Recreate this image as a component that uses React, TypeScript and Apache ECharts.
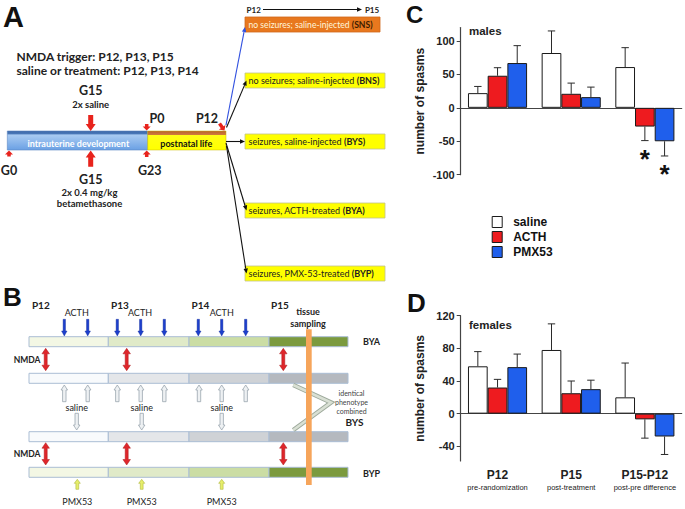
import React, { useEffect, useRef } from 'react';
import * as echarts from 'echarts';

// ---------- data ----------
const categories = ['P12', 'P15', 'P15-P12'];
const subLabels = ['pre-randomization', 'post-treatment', 'post-pre difference'];
const groupNames = ['saline', 'ACTH', 'PMX53'];
const groupColors = ['#ffffff', '#ee1b1f', '#1f5fec'];

const maleSaline = [22, 82, 61];
const maleSalineErr = [32, 115, 90];
const maleACTH = [48, 21, -28];
const maleACTHErr = [60, 37, -49];
const malePMX = [67, 16, -50];
const malePMXErr = [93, 31, -72];
const maleSalineSig = [0, 0, 0];
const maleACTHSig = [0, 0, 1];
const malePMXSig = [0, 0, 1];

const femaleSaline = [58, 78, 20];
const femaleSalineErr = [76, 110, 62];
const femaleACTH = [32, 25, -7];
const femaleACTHErr = [42, 40, -30];
const femalePMX = [57, 30, -28];
const femalePMXErr = [73, 41, -50];
const femaleSig = [0, 0, 0];

const maleTicks = [-100, -50, 0, 50, 100];
const femaleTicks = [-40, 0, 40, 80, 120];

const boxLabels = [
  'no seizures; saline-injected',
  'no seizures; saline-injected',
  'seizures, saline-injected',
  'seizures, ACTH-treated',
  'seizures, PMX-53-treated',
];
const boxCodes = ['SNS', 'BNS', 'BYS', 'BYA', 'BYP'];

// ---------- style helpers ----------
const FA = 'Lato, "Open Sans", sans-serif';
const FC = '"Liberation Sans", Arial, Helvetica, sans-serif';
const RED = '#e8231c';
const BAR_W = 19.7;

function T(x: number, y: number, text: string, size: number, o: any = {}) {
  const a = o.a || 'center';
  return {
    type: 'text', silent: true, x, y,
    style: {
      text, fontSize: size, fontWeight: o.w || 'normal', fontFamily: o.f || FA,
      fill: o.c || '#222', align: a, textAlign: a, verticalAlign: 'middle', textVerticalAlign: 'middle',
      rich: o.rich,
    },
  };
}
function R(x: number, y: number, w: number, h: number, fill: any, stroke?: string, lw?: number) {
  return { type: 'rect', silent: true, shape: { x, y, width: w, height: h }, style: { fill, stroke: stroke || 'none', lineWidth: lw || 0 } };
}
function L(x1: number, y1: number, x2: number, y2: number, stroke: string, lw: number) {
  return { type: 'line', silent: true, shape: { x1, y1, x2, y2 }, style: { stroke, lineWidth: lw } };
}
function P(points: number[][], fill: string, stroke?: string, lw?: number) {
  return { type: 'polygon', silent: true, shape: { points }, style: { fill, stroke: stroke || 'none', lineWidth: lw || 0 } };
}
function arrowPts(x0: number, y0: number, x1: number, y1: number, sw: number, hw: number, hl: number) {
  const dx = x1 - x0, dy = y1 - y0, len = Math.hypot(dx, dy);
  const ux = dx / len, uy = dy / len, nx = -uy, ny = ux;
  const bx = x1 - ux * hl, by = y1 - uy * hl;
  return [
    [x0 + nx * sw / 2, y0 + ny * sw / 2], [bx + nx * sw / 2, by + ny * sw / 2], [bx + nx * hw / 2, by + ny * hw / 2],
    [x1, y1],
    [bx - nx * hw / 2, by - ny * hw / 2], [bx - nx * sw / 2, by - ny * sw / 2], [x0 - nx * sw / 2, y0 - ny * sw / 2],
  ];
}
function dblPts(x: number, y1: number, y2: number, sw: number, hw: number, hl: number) {
  return [
    [x, y1], [x + hw / 2, y1 + hl], [x + sw / 2, y1 + hl], [x + sw / 2, y2 - hl], [x + hw / 2, y2 - hl],
    [x, y2], [x - hw / 2, y2 - hl], [x - sw / 2, y2 - hl], [x - sw / 2, y1 + hl], [x - hw / 2, y1 + hl],
  ];
}
function lineArrow(x0: number, y0: number, x1: number, y1: number, color: string, lw: number) {
  const dx = x1 - x0, dy = y1 - y0, len = Math.hypot(dx, dy);
  const ux = dx / len, uy = dy / len, nx = -uy, ny = ux;
  const hl = 5, hw = 2.2;
  const bx = x1 - ux * hl, by = y1 - uy * hl;
  return [L(x0, y0, bx, by, color, lw), P([[x1, y1], [bx + nx * hw, by + ny * hw], [bx - nx * hw, by - ny * hw]], color)];
}

function buildGraphics() {
  const g: any[] = [];
  // ---------- Panel A ----------
  g.push(T(3, 17, 'A', 29, { w: 'bold', f: FC, a: 'left', c: '#111' }));
  g.push(T(16.5, 56.7, 'NMDA trigger: P12, P13, P15', 12, { w: 'bold', a: 'left' }));
  g.push(T(16.5, 70.7, 'saline or treatment: P12, P13, P14', 12, { w: 'bold', a: 'left' }));

  const blueGrad = new echarts.graphic.LinearGradient(0, 0, 0, 1, [
    { offset: 0, color: '#3b66a6' }, { offset: 0.16, color: '#4a79ba' },
    { offset: 0.2, color: '#a9cbf2' }, { offset: 1, color: '#6aa0e4' },
  ]);
  g.push(R(7.3, 131, 140.4, 19, blueGrad, '#5d88c2', 0.6));
  g.push(T(78.3, 143, 'intrauterine development', 9, { w: 'bold', c: '#ffffff' }));
  const yelGrad = new echarts.graphic.LinearGradient(0, 0, 0, 1, [
    { offset: 0, color: '#b8612e' }, { offset: 0.2, color: '#cf7a3c' },
    { offset: 0.22, color: '#ffff14' }, { offset: 1, color: '#ffff00' },
  ]);
  g.push(R(147.7, 131, 78.3, 19, yelGrad, '#c9b800', 0.5));
  g.push(T(186.3, 143, 'postnatal life', 9, { w: 'bold', c: '#111' }));

  // red arrows
  g.push(P(arrowPts(90.7, 115, 90.7, 131, 5, 10, 7), RED));
  g.push(P(arrowPts(90.7, 166.7, 90.7, 150.5, 5, 10, 7), RED));
  g.push(P(arrowPts(9, 156.5, 9, 150.5, 3.5, 8, 4), RED));
  g.push(P(arrowPts(146.7, 157, 146.7, 150.5, 3.5, 8, 4), RED));
  g.push(P(arrowPts(146.7, 124, 146.7, 130.5, 3.5, 8, 4), RED));
  g.push(P(arrowPts(219.5, 123.5, 224.5, 130.5, 3.5, 8, 4), RED));

  g.push(T(90.7, 90.7, 'G15', 12.5, { w: 'bold' }));
  g.push(T(90.7, 104.3, '2x saline', 9.5, { w: 'bold' }));
  g.push(T(157, 118.3, 'P0', 12.5, { w: 'bold' }));
  g.push(T(207, 118.3, 'P12', 12.5, { w: 'bold' }));
  g.push(T(9, 170.7, 'G0', 12.5, { w: 'bold' }));
  g.push(T(149.7, 170.7, 'G23', 12.5, { w: 'bold' }));
  g.push(T(90.7, 179, 'G15', 12.5, { w: 'bold' }));
  g.push(T(89.5, 192.7, '2x 0.4 mg/kg', 9.5, { w: 'bold' }));
  g.push(T(89.5, 203.3, 'betamethasone', 9.5, { w: 'bold' }));

  // top P12 -> P15
  g.push(T(253.7, 9.5, 'P12', 8, { w: 'bold' }));
  g.push(...lineArrow(263, 9.5, 362, 9.5, '#111', 1));
  g.push(T(372, 9.5, 'P15', 8, { w: 'bold' }));

  // outcome boxes
  const boxY = [17, 73, 134, 203, 266];
  boxY.forEach((y, i) => {
    const isOrange = i === 0;
    const fs = isOrange ? 8.6 : 9;
    g.push(R(245, y, isOrange ? 135 : 140, 15, isOrange ? '#e8781e' : '#ffff00', isOrange ? '#d0681a' : '#c2c28a', 0.8));
    g.push(T(248.5, y + 7.5, `{n|${boxLabels[i]} }{b|(${boxCodes[i]})}`, fs, {
      a: 'left',
      rich: {
        n: { fontSize: fs, fontFamily: FA, fill: isOrange ? '#fff6dc' : '#222', color: isOrange ? '#fff6dc' : '#222' },
        b: { fontSize: fs, fontFamily: FA, fontWeight: 'bold', fill: isOrange ? '#3a1c00' : '#222', color: isOrange ? '#3a1c00' : '#222' },
      },
    }));
  });
  // fan of arrows
  g.push(...lineArrow(226, 125, 245, 27, '#3050e0', 1.1));
  g.push(...lineArrow(226.5, 127.5, 246.5, 80.5, '#111', 1.1));
  g.push(...lineArrow(226, 141.5, 245, 141.5, '#111', 1.1));
  g.push(...lineArrow(226, 143, 246.5, 210.5, '#111', 1.1));
  g.push(...lineArrow(226.5, 146, 246.5, 273.5, '#111', 1.1));

  // ---------- Panel B ----------
  g.push(T(3, 297, 'B', 26, { w: 'bold', f: FC, a: 'left', c: '#111' }));
  [[40.8, 'P12'], [120, 'P13'], [200.5, 'P14'], [280, 'P15']].forEach(([x, s]) =>
    g.push(T(x as number, 305, s as string, 10, { w: 'bold' })));
  [76.7, 140, 221.7].forEach((x) => g.push(T(x, 312.7, 'ACTH', 9)));
  g.push(T(308, 311.7, 'tissue', 9, { w: 'bold' }));
  g.push(T(308, 323.3, 'sampling', 9, { w: 'bold' }));

  const segX = [29, 108.3, 189, 269, 348];
  const greens = ['#f3f7e4', '#e0eac8', '#cbdda4', '#7b9a3e'];
  const grays = ['#f8fafc', '#e4e6e9', '#cfd2d6', '#b5b9bf'];
  const rows: [number, string[]][] = [[336.7, greens], [373.3, grays], [431.7, grays], [467.3, greens]];
  rows.forEach(([y, cols]) => {
    for (let k = 0; k < 4; k++) g.push(R(segX[k], y, segX[k + 1] - segX[k], 10, cols[k], '#aabdd4', 1));
  });

  // ACTH arrows
  [64.3, 87.7, 117.3, 140.7, 164.3, 198.3, 221.7, 245.7].forEach((x) =>
    g.push(P(arrowPts(x, 319.3, x, 336, 2.4, 5.5, 5), '#1d3fcc', '#15309a', 0.4)));
  // NMDA double arrows
  [45.7, 126.7, 283.3].forEach((x) => {
    g.push(P(dblPts(x, 348.3, 370.7, 3, 7.5, 5.5), '#df262b', '#a8181b', 0.5));
    g.push(P(dblPts(x, 442.7, 465, 3, 7.5, 5.5), '#df262b', '#a8181b', 0.5));
  });
  g.push(T(27, 360, 'NMDA', 8.5, { w: 'bold' }));
  g.push(T(27, 454, 'NMDA', 8.5, { w: 'bold' }));
  // saline up arrows
  [64.3, 87.7, 117.3, 140.7, 164.3, 199, 221.7, 245.7].forEach((x) =>
    g.push(P(arrowPts(x, 401.7, x, 385, 3.4, 6.5, 5), '#eef1f3', '#9aa6ae', 0.8)));
  [76.7, 141.7, 221.7].forEach((x) => {
    g.push(T(x, 407.3, 'saline', 9));
    g.push(P(arrowPts(x, 413.3, x, 430, 3.4, 6.5, 5), '#eef1f3', '#9aa6ae', 0.8));
  });
  // PMX53 arrows
  [77.3, 141.7, 221.7].forEach((x) => {
    g.push(P(arrowPts(x, 489.3, x, 479.3, 2.8, 6, 4), '#e6ee6a', '#aeb63c', 0.6));
    g.push(T(x, 501.7, 'PMX53', 9));
  });
  // zigzag connector
  const zz = [[293.3, 385], [331, 402.5], [293.3, 430]];
  g.push({ type: 'polyline', silent: true, shape: { points: zz }, style: { stroke: '#9eaa9c', lineWidth: 4.6, fill: 'none' } });
  g.push({ type: 'polyline', silent: true, shape: { points: zz }, style: { stroke: '#d9e0d4', lineWidth: 2.6, fill: 'none' } });
  // tissue sampling bar
  g.push(R(306, 329.3, 5.7, 155.7, '#f6a55b'));
  g.push(T(351.5, 392.5, 'identical', 7, { c: '#444' }));
  g.push(T(351.5, 401.5, 'phenotype', 7, { c: '#444' }));
  g.push(T(351.5, 410.5, 'combined', 7, { c: '#444' }));
  g.push(T(354.5, 421.7, 'BYS', 10, { w: 'bold' }));
  g.push(T(371.5, 341.7, 'BYA', 9, { w: 'bold' }));
  g.push(T(371.5, 473.3, 'BYP', 9, { w: 'bold' }));

  // ---------- Panel C / D titles ----------
  g.push(T(406, 14, 'C', 24, { w: 'bold', f: FC, a: 'left', c: '#111' }));
  g.push(T(469, 31, 'males', 11.5, { w: 'bold', f: FC, a: 'left', c: '#222' }));
  g.push(T(407, 303, 'D', 26, { w: 'bold', f: FC, a: 'left', c: '#111' }));
  g.push(T(469, 325, 'females', 11.5, { w: 'bold', f: FC, a: 'left', c: '#222' }));
  return g;
}

function errSeries(name: string, xi: number, yi: number, s: number, vals: number[], errs: number[], sig: number[]) {
  return {
    type: 'custom', name, xAxisIndex: xi, yAxisIndex: yi, z: 5, silent: true,
    data: vals.map((v, i) => [i, v, errs[i], sig[i]]),
    encode: { x: 0, y: [1, 2] },
    renderItem: (params: any, api: any) => {
      const c = api.value(0), v = api.value(1), e = api.value(2), sg = api.value(3);
      const p0 = api.coord([c, v]);
      const p1 = api.coord([c, e]);
      const x = p0[0] + (s - 1) * BAR_W;
      const st = { stroke: '#2a2a2a', lineWidth: 1 };
      const children: any[] = [
        { type: 'line', shape: { x1: x, y1: p0[1], x2: x, y2: p1[1] }, style: st },
        { type: 'line', shape: { x1: x - 3.7, y1: p1[1], x2: x + 3.7, y2: p1[1] }, style: st },
      ];
      if (sg) {
        children.push({
          type: 'text', x, y: p1[1] + 5,
          style: { text: '*', fontSize: 26, fontWeight: 'bold', fontFamily: FC, fill: '#111', align: 'center', textAlign: 'center', verticalAlign: 'top', textVerticalAlign: 'top' },
        });
      }
      return { type: 'group', children };
    },
  };
}

export default function App() {
  const ref = useRef<HTMLDivElement>(null);
  useEffect(() => {
    document.body.style.margin = '0';
    if (!ref.current) return;
    const chart = echarts.init(ref.current, undefined, { renderer: 'svg' });

    const yAxisCommon = (ticks: number[], min: number, max: number, gi: number) => ({
      type: 'value', gridIndex: gi, min, max,
      axisLine: { show: true, lineStyle: { color: '#444', width: 1.2 } },
      axisTick: { show: true, inside: false, length: 4, customValues: ticks, lineStyle: { color: '#444', width: 1 } },
      axisLabel: { customValues: ticks, fontSize: 11, fontWeight: 'bold', color: '#222', margin: 6, fontFamily: FC },
      splitLine: { show: false },
      name: 'number of spasms', nameLocation: 'middle', nameGap: 35,
      nameTextStyle: { fontSize: 12, fontWeight: 'bold', color: '#222', fontFamily: FC },
    });

    const maleVals = [maleSaline, maleACTH, malePMX];
    const maleErrs = [maleSalineErr, maleACTHErr, malePMXErr];
    const maleSigs = [maleSalineSig, maleACTHSig, malePMXSig];
    const femaleVals = [femaleSaline, femaleACTH, femalePMX];
    const femaleErrs = [femaleSalineErr, femaleACTHErr, femalePMXErr];

    const series: any[] = [];
    groupNames.forEach((n, s) => {
      series.push({
        type: 'bar', name: n, xAxisIndex: 0, yAxisIndex: 0, data: maleVals[s], barWidth: BAR_W, barGap: '0%',
        itemStyle: { color: groupColors[s], borderColor: '#1a1a1a', borderWidth: 1 },
      });
    });
    groupNames.forEach((n, s) => {
      series.push({
        type: 'bar', name: n, xAxisIndex: 1, yAxisIndex: 1, data: femaleVals[s], barWidth: BAR_W, barGap: '0%',
        itemStyle: { color: groupColors[s], borderColor: '#1a1a1a', borderWidth: 1 },
      });
    });
    groupNames.forEach((n, s) => {
      series.push(errSeries('err-m-' + n, 0, 0, s, maleVals[s], maleErrs[s], maleSigs[s]));
      series.push(errSeries('err-f-' + n, 1, 1, s, femaleVals[s], femaleErrs[s], femaleSig));
    });

    const option: any = {
      animation: false,
      backgroundColor: '#ffffff',
      grid: [
        { left: 460.7, width: 221, top: 27.6, height: 147.1, containLabel: false },
        { left: 460.7, width: 221, top: 315.7, height: 145.3, containLabel: false },
      ],
      xAxis: [
        { type: 'category', gridIndex: 0, data: categories, axisLine: { onZero: true, lineStyle: { color: '#444', width: 1.2 } }, axisTick: { show: false }, axisLabel: { show: false } },
        { type: 'category', gridIndex: 1, data: categories, position: 'bottom', axisLine: { onZero: true, lineStyle: { color: '#444', width: 1.2 } }, axisTick: { show: false }, axisLabel: { show: false } },
        {
          type: 'category', gridIndex: 1, data: categories, position: 'bottom',
          axisLine: { show: false, onZero: false }, axisTick: { show: false },
          axisLabel: {
            margin: 7, interval: 0,
            formatter: (v: string, i: number) => `{a|${v}}\n{b|${subLabels[i]}}`,
            rich: {
              a: { fontSize: 12, fontWeight: 'bold', fontFamily: FC, color: '#222', lineHeight: 14 },
              b: { fontSize: 7.5, fontFamily: FC, color: '#222', lineHeight: 11 },
            },
          },
        },
      ],
      yAxis: [yAxisCommon(maleTicks, -100, 120, 0), yAxisCommon(femaleTicks, -58, 120, 1)],
      legend: {
        left: 491.7, top: 215, orient: 'vertical', itemWidth: 10, itemHeight: 11, itemGap: 1, padding: 0,
        selectedMode: false,
        data: groupNames.map((n, i) => ({ name: n, icon: 'rect', itemStyle: { color: groupColors[i], borderColor: '#1a1a1a', borderWidth: 1 } })),
        textStyle: { fontSize: 12, fontWeight: 'bold', fontFamily: FC, color: '#111', padding: [0, 0, 0, 6], lineHeight: 14 },
      },
      graphic: buildGraphics(),
      series,
    };
    chart.setOption(option);
    return () => chart.dispose();
  }, []);
  return <div ref={ref} style={{ width: 685, height: 509 }} />;
}
